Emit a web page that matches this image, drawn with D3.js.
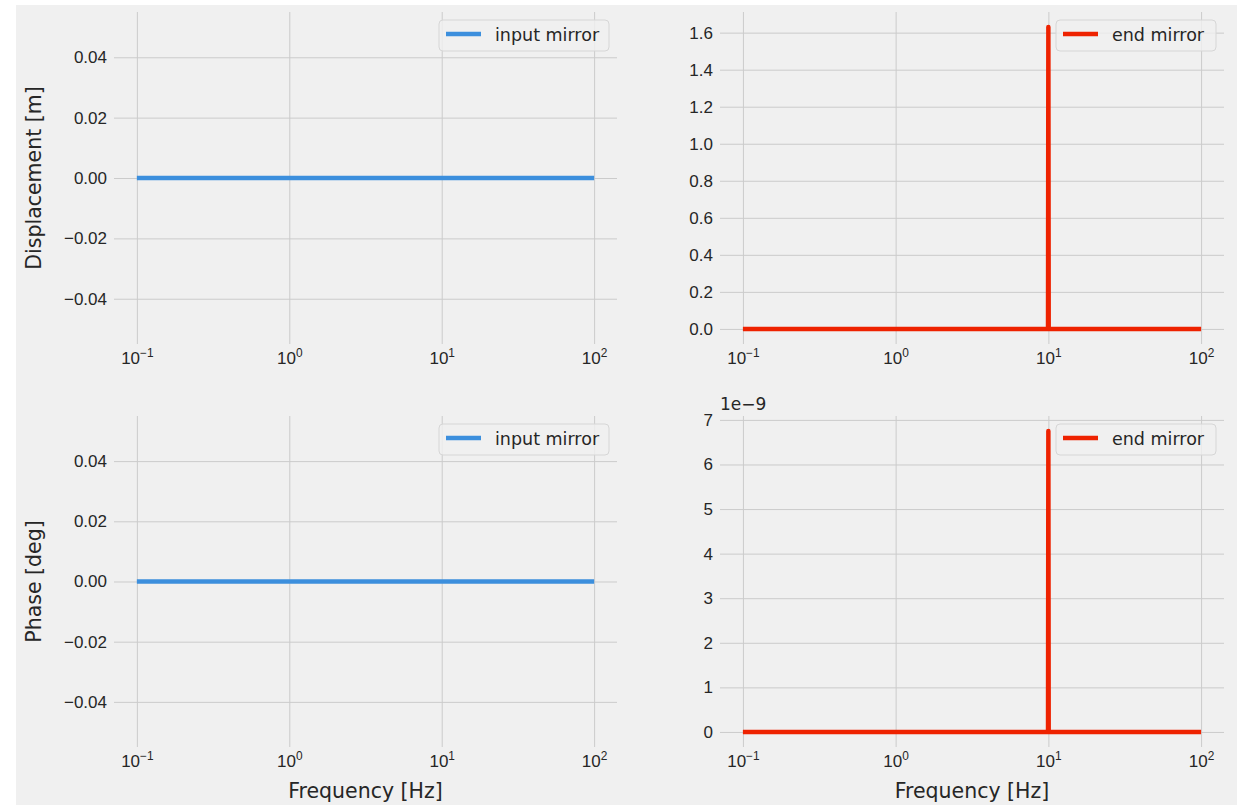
<!DOCTYPE html>
<html>
<head>
<meta charset="utf-8">
<script src="https://cdn.jsdelivr.net/npm/d3@7"></script>
<style>
  body { margin: 0; background: #fff; }
  svg { display: block; font-family: "DejaVu Sans", sans-serif; }
</style>
</head>
<body>
<div id="chart"></div>
<script>
// frequency grid (Hz) and responses
const freqHz = [0.1, 9.95, 10, 10.05, 100];
const inputDisp = [0, 0, 0, 0, 0];
const endDisp = [0, 0, 1.63, 0, 0];
const inputPhase = [0, 0, 0, 0, 0];
const endPhase = [0, 0, 6.75e-9, 0, 0];

const xTicks = [0.1, 1, 10, 100];
const xTickExp = ["\u22121", "0", "1", "2"];
const smallTicks = [-0.04, -0.02, 0, 0.02, 0.04];
const dispTicks = [0, 0.2, 0.4, 0.6, 0.8, 1.0, 1.2, 1.4, 1.6];
const phaseTicks = [0, 1, 2, 3, 4, 5, 6, 7].map(d => d * 1e-9);

const width = 1237;
const height = 805;
const blue = "#3c8fdd";
const red = "#ee2200";
const tickFont = 17;
const ink = "#262626";

const svg = d3.select("#chart").append("svg")
  .attr("width", width)
  .attr("height", height);

svg.append("rect")
  .attr("x", 16).attr("y", 5)
  .attr("width", width - 16).attr("height", height - 5)
  .attr("fill", "#f0f0f0");

const cols = [[114, 617], [720, 1224]];
const rows = [[12, 344], [416, 747]];

const panels = [
  { col: 0, row: 0, y: inputDisp, color: blue, name: "input mirror", ticks: smallTicks, fixed: [-0.055, 0.055], fmt: d3.format(".2f"), ylabel: "Displacement [m]" },
  { col: 1, row: 0, y: endDisp, color: red, name: "end mirror", ticks: dispTicks, fmt: d3.format(".1f") },
  { col: 0, row: 1, y: inputPhase, color: blue, name: "input mirror", ticks: smallTicks, fixed: [-0.055, 0.055], fmt: d3.format(".2f"), ylabel: "Phase [deg]", xlabel: true },
  { col: 1, row: 1, y: endPhase, color: red, name: "end mirror", ticks: phaseTicks, fmt: d => d3.format("d")(Math.round(d * 1e9)), offset: "1e\u22129", xlabel: true }
];

panels.forEach(p => {
  const [x0, x1] = cols[p.col];
  const [y0, y1] = rows[p.row];
  const w = x1 - x0, h = y1 - y0;

  // log x with 5% margins in log space
  const lo = Math.log10(d3.min(freqHz)), hi = Math.log10(d3.max(freqHz));
  const pad = (hi - lo) * 0.05;
  const x = d3.scaleLog().domain([10 ** (lo - pad), 10 ** (hi + pad)]).range([0, w]);

  let ydom = p.fixed;
  if (!ydom) {
    const mn = d3.min(p.y), mx = d3.max(p.y);
    const m = (mx - mn) * 0.05;
    ydom = [mn - m, mx + m];
  }
  const y = d3.scaleLinear().domain(ydom).range([h, 0]);

  const g = svg.append("g").attr("transform", `translate(${x0},${y0})`);

  const yAxis = g.append("g")
    .call(d3.axisLeft(y).tickValues(p.ticks).tickFormat(d => p.fmt(d).replace("-", "\u2212"))
      .tickSizeInner(-w).tickSizeOuter(0).tickPadding(7));

  const xAxis = g.append("g")
    .attr("transform", `translate(0,${h})`)
    .call(d3.axisBottom(x).tickValues(xTicks).tickFormat("")
      .tickSizeInner(-h).tickSizeOuter(0).tickPadding(8));

  [yAxis, xAxis].forEach(a => {
    a.select(".domain").remove();
    a.selectAll(".tick line").attr("stroke", "#cbcbcb").attr("stroke-width", 1);
    a.selectAll(".tick text").attr("fill", ink).attr("font-size", tickFont);
  });

  // 10^n labels
  xAxis.selectAll(".tick text").each(function (d, i) {
    const t = d3.select(this).attr("dy", null).attr("y", 20);
    t.append("tspan").text("10");
    t.append("tspan").attr("dy", -7).attr("font-size", tickFont * 0.7).text(xTickExp[i]);
  });

  const line = d3.line()
    .x((d, i) => x(freqHz[i]))
    .y(d => y(d));

  g.append("path")
    .datum(p.y)
    .attr("d", line)
    .attr("fill", "none")
    .attr("stroke", p.color)
    .attr("stroke-width", 4.5)
    .attr("stroke-linejoin", "round");

  // legend, upper right
  const lw = p.name === "input mirror" ? 170 : 160;
  const lg = g.append("g").attr("transform", `translate(${w - 8 - lw},8)`);
  lg.append("rect")
    .attr("width", lw).attr("height", 31).attr("rx", 4)
    .attr("fill", "#f0f0f0").attr("fill-opacity", 0.8)
    .attr("stroke", "#d6d6d6");
  lg.append("line")
    .attr("x1", 7).attr("x2", 42).attr("y1", 14).attr("y2", 14)
    .attr("stroke", p.color).attr("stroke-width", 4.5);
  lg.append("text")
    .attr("x", 56).attr("y", 20.5)
    .attr("font-size", 17.5).attr("fill", ink)
    .text(p.name);

  if (p.ylabel) {
    g.append("text")
      .attr("transform", `translate(${41 - x0},${h / 2}) rotate(-90)`)
      .attr("text-anchor", "middle")
      .attr("font-size", 20.5).attr("fill", ink)
      .text(p.ylabel);
  }
  if (p.xlabel) {
    g.append("text")
      .attr("x", w / 2).attr("y", h + 51)
      .attr("text-anchor", "middle")
      .attr("font-size", 20.5).attr("fill", ink)
      .text("Frequency [Hz]");
  }
  if (p.offset) {
    g.append("text")
      .attr("x", 0).attr("y", -6)
      .attr("font-size", tickFont).attr("fill", ink)
      .text(p.offset);
  }
});
</script>
</body>
</html>
